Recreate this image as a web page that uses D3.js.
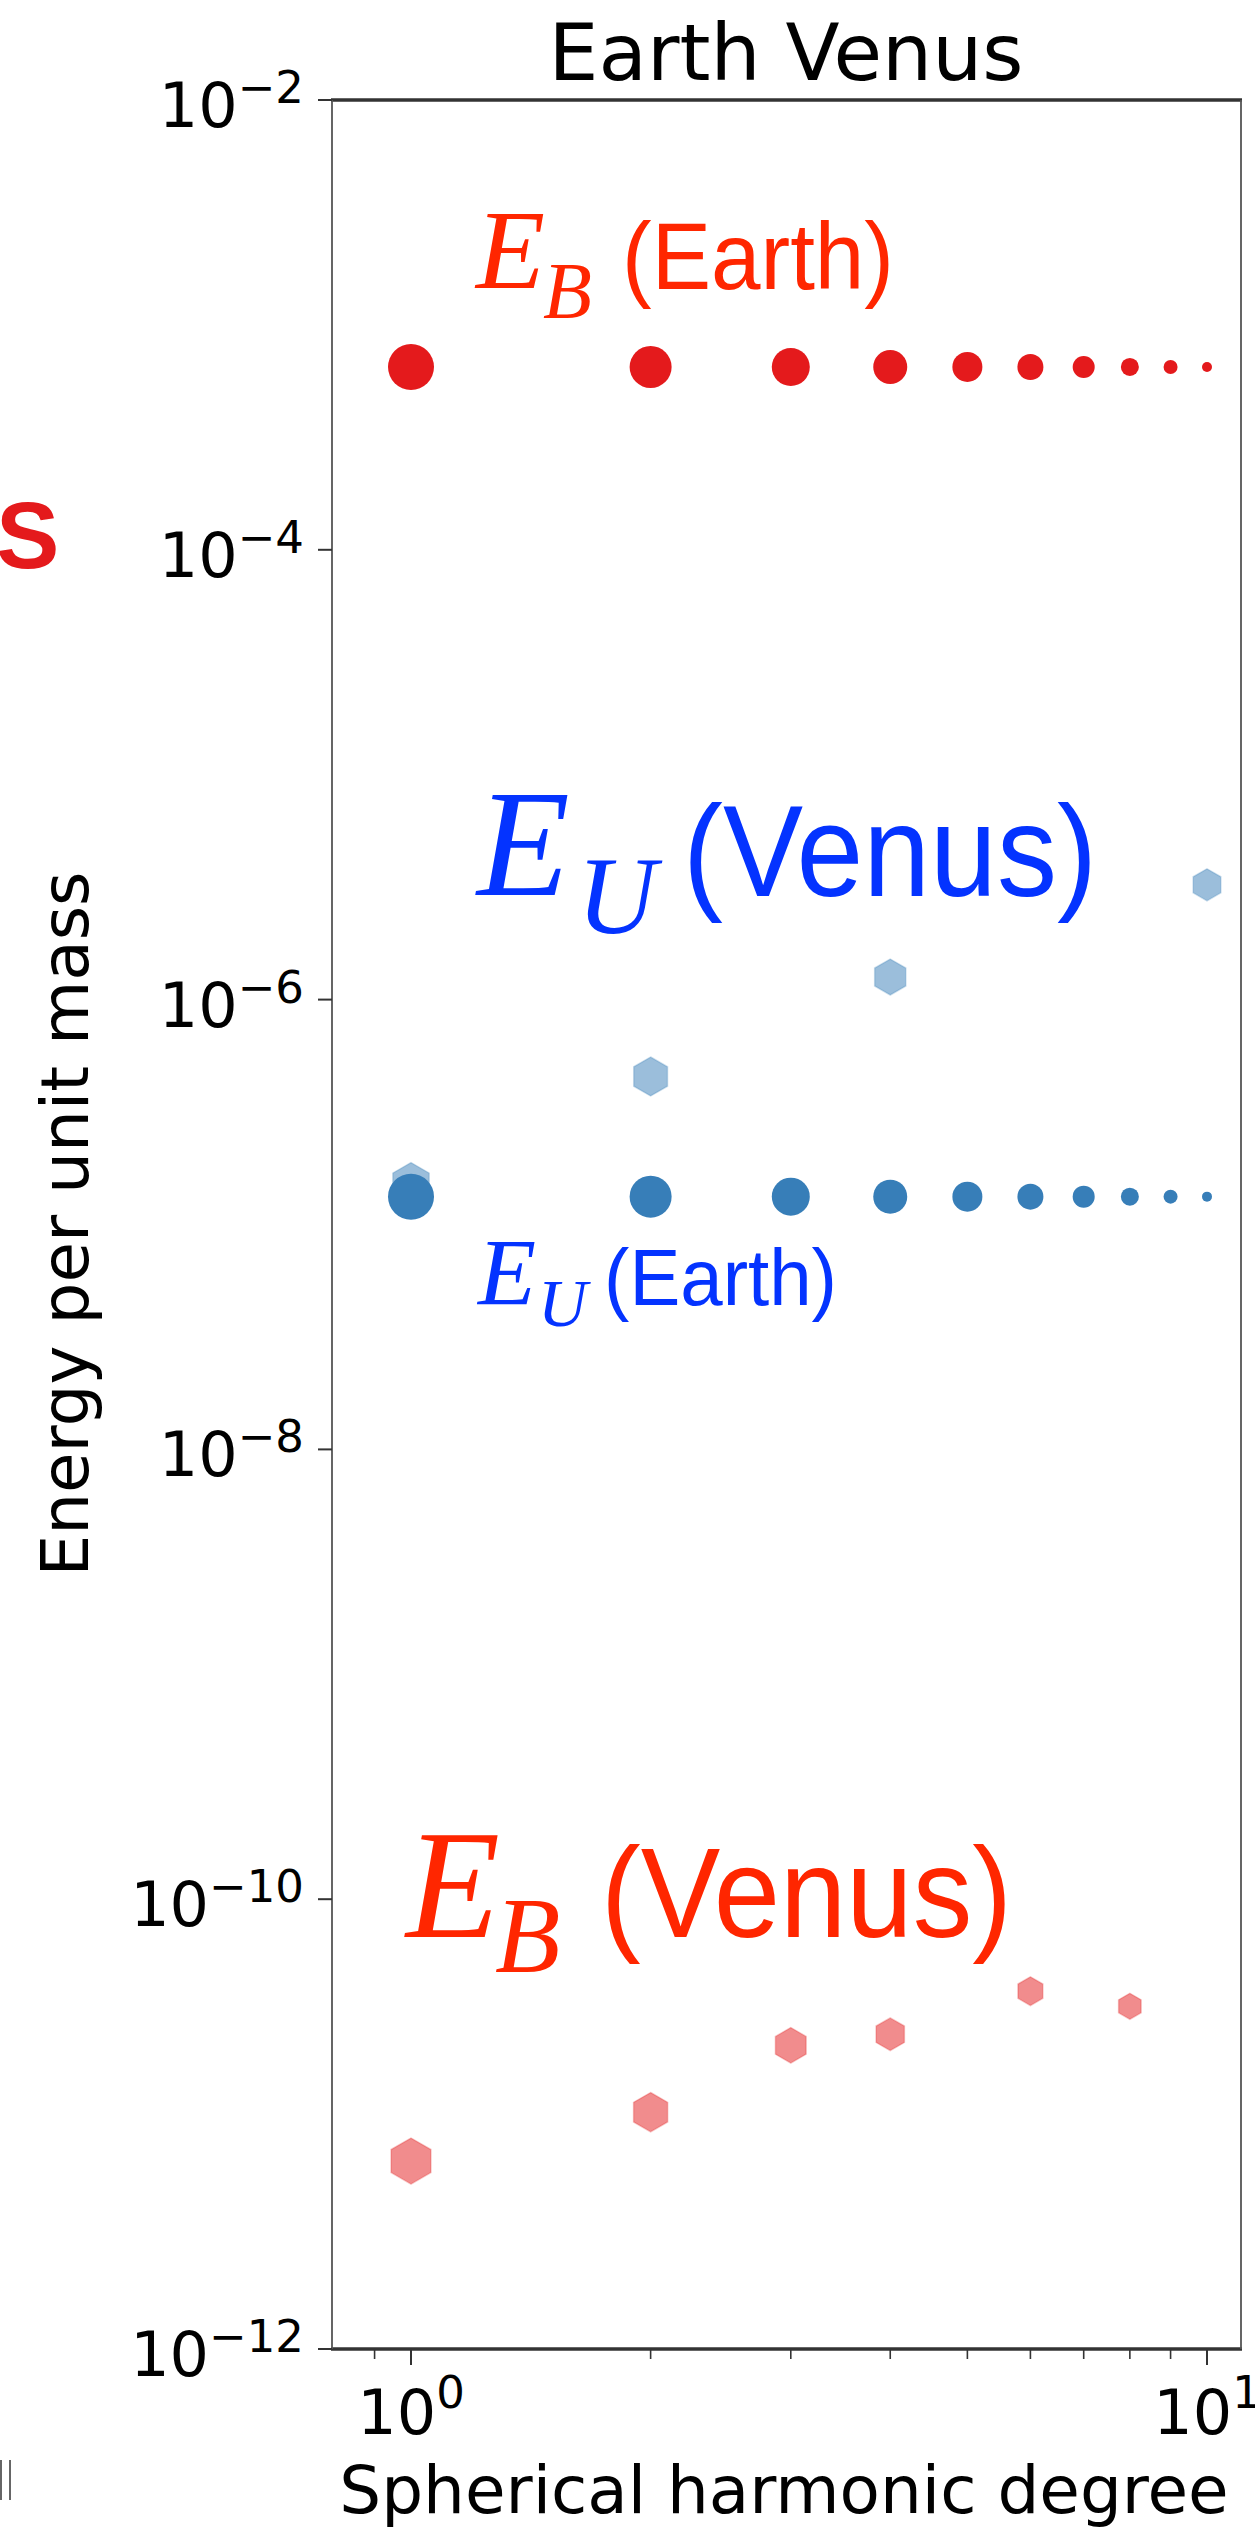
<!DOCTYPE html>
<html>
<head>
<meta charset="utf-8">
<script src="https://cdn.jsdelivr.net/npm/d3@7"></script>
<style>
  body { margin: 0; background: #fff; }
  svg { display: block; }
</style>
</head>
<body>
<div id="chart"></div>
<script>
// Values (energy per unit mass vs spherical harmonic degree)
const degrees      = [1, 2, 3, 4, 5, 6, 7, 8, 9, 10];
const ebEarth      = [6.5e-4, 6.5e-4, 6.5e-4, 6.5e-4, 6.5e-4, 6.5e-4, 6.5e-4, 6.5e-4, 6.5e-4, 6.5e-4];
const euEarth      = [1.33e-7, 1.33e-7, 1.33e-7, 1.33e-7, 1.33e-7, 1.33e-7, 1.33e-7, 1.33e-7, 1.33e-7, 1.33e-7];
const euVenusDeg   = [1, 2, 4, 10];
const euVenus      = [1.52e-7, 4.55e-7, 1.26e-6, 3.24e-6];
const ebVenusDeg   = [1, 2, 3, 4, 6, 8];
const ebVenus      = [6.85e-12, 1.13e-11, 2.24e-11, 2.51e-11, 3.9e-11, 3.34e-11];
const yTickExps    = [-2, -4, -6, -8, -10, -12];
const xTickExps    = [0, 1];
const xMinorTicks  = [0.9, 2, 3, 4, 5, 6, 7, 8, 9];

const width  = 1255;
const height = 2529;
const plot = { left: 332, right: 1241, top: 100, bottom: 2349 };

const svg = d3.select("#chart")
  .append("svg")
  .attr("width", width)
  .attr("height", height)
  .attr("viewBox", `0 0 ${width} ${height}`);

// log scales: 10^0 sits at x=411, 10^1 at x=1207
const x = d3.scaleLog()
  .domain([Math.pow(10, -79 / 796), Math.pow(10, (plot.right - 411) / 796)])
  .range([plot.left, plot.right]);

const y = d3.scaleLog()
  .domain([1e-12, 1e-2])
  .range([plot.bottom, plot.top]);

// marker size shrinks with degree
const circleR  = d3.scaleLinear().domain([1, 10]).range([23, 5]);
const hexRB    = d3.scaleLog().domain([1, 8]).range([23, 13]);
const hexRU    = d3.scaleLog().domain([1, 10]).range([21, 16]);

// matplotlib 'h' marker: hexagon with a point on top
const hexagon = {
  draw(ctx, size) {
    const r = Math.sqrt(size / (1.5 * Math.sqrt(3)));
    for (let i = 0; i < 6; i++) {
      const a = -Math.PI / 2 + i * Math.PI / 3;
      const px = r * Math.cos(a), py = r * Math.sin(a);
      if (i === 0) ctx.moveTo(px, py); else ctx.lineTo(px, py);
    }
    ctx.closePath();
  }
};
const hexArea = r => 1.5 * Math.sqrt(3) * r * r;

const red  = "#e41a1c";
const blue = "#377eb8";

// Venus hexagons (behind)
const hexLayer = svg.append("g");
hexLayer.selectAll("path.ebv")
  .data(ebVenusDeg.map((d, i) => ({ deg: d, v: ebVenus[i] })))
  .join("path")
    .attr("class", "ebv")
    .attr("transform", d => `translate(${x(d.deg)},${y(d.v)})`)
    .attr("d", d => d3.symbol().type(hexagon).size(hexArea(hexRB(d.deg)))())
    .attr("fill", red)
    .attr("fill-opacity", 0.5)
    .attr("stroke", red)
    .attr("stroke-opacity", 0.25)
    .attr("stroke-width", 1.5);

hexLayer.selectAll("path.euv")
  .data(euVenusDeg.map((d, i) => ({ deg: d, v: euVenus[i] })))
  .join("path")
    .attr("class", "euv")
    .attr("transform", d => `translate(${x(d.deg)},${y(d.v)})`)
    .attr("d", d => d3.symbol().type(hexagon).size(hexArea(hexRU(d.deg)))())
    .attr("fill", blue)
    .attr("fill-opacity", 0.5)
    .attr("stroke", blue)
    .attr("stroke-opacity", 0.25)
    .attr("stroke-width", 1.5);

// Earth circles
const dotLayer = svg.append("g");
[[ebEarth, red], [euEarth, blue]].forEach(([vals, col]) => {
  dotLayer.append("g").selectAll("circle")
    .data(degrees.map((d, i) => ({ deg: d, v: vals[i] })))
    .join("circle")
      .attr("cx", d => x(d.deg))
      .attr("cy", d => y(d.v))
      .attr("r", d => circleR(d.deg))
      .attr("fill", col);
});

// frame
const frame = svg.append("g").attr("stroke", "#333");
frame.append("line").attr("x1", plot.left - 1).attr("x2", plot.right + 1)
  .attr("y1", plot.top).attr("y2", plot.top).attr("stroke-width", 3.5);
frame.append("line").attr("x1", plot.left - 1).attr("x2", plot.right + 1)
  .attr("y1", plot.bottom).attr("y2", plot.bottom).attr("stroke-width", 3.5);
frame.append("line").attr("x1", plot.left).attr("x2", plot.left)
  .attr("y1", plot.top).attr("y2", plot.bottom).attr("stroke-width", 1.8).attr("stroke", "#555");
frame.append("line").attr("x1", plot.right).attr("x2", plot.right)
  .attr("y1", plot.top).attr("y2", plot.bottom).attr("stroke-width", 1.8).attr("stroke", "#555");

const tickFont = "DejaVu Sans, sans-serif";

// y ticks and labels
const yAxis = svg.append("g");
yTickExps.forEach(e => {
  const yy = y(Math.pow(10, e));
  yAxis.append("line")
    .attr("x1", plot.left - 14).attr("x2", plot.left)
    .attr("y1", yy).attr("y2", yy)
    .attr("stroke", "#333").attr("stroke-width", 2);
  const t = yAxis.append("text")
    .attr("x", 304).attr("y", yy + 27)
    .attr("text-anchor", "end")
    .attr("font-family", tickFont)
    .attr("font-size", 62)
    .attr("fill", "#000");
  t.append("tspan").text("10");
  t.append("tspan").attr("font-size", 45).attr("dy", -24).text("\u2212" + Math.abs(e));
});

// x ticks and labels
const xAxis = svg.append("g");
xMinorTicks.forEach(v => {
  xAxis.append("line")
    .attr("x1", x(v)).attr("x2", x(v))
    .attr("y1", plot.bottom).attr("y2", plot.bottom + 10)
    .attr("stroke", "#333").attr("stroke-width", 1.6);
});
xTickExps.forEach(e => {
  const xx = x(Math.pow(10, e));
  xAxis.append("line")
    .attr("x1", xx).attr("x2", xx)
    .attr("y1", plot.bottom).attr("y2", plot.bottom + 16)
    .attr("stroke", "#333").attr("stroke-width", 2);
  const t = xAxis.append("text")
    .attr("x", xx).attr("y", 2434)
    .attr("text-anchor", "middle")
    .attr("font-family", tickFont)
    .attr("font-size", 62)
    .attr("fill", "#000");
  t.append("tspan").text("10");
  t.append("tspan").attr("font-size", 45).attr("dy", -26).text(String(e));
});

// axis titles
svg.append("text")
  .attr("x", 786).attr("y", 80)
  .attr("text-anchor", "middle")
  .attr("font-family", tickFont)
  .attr("font-size", 79)
  .text("Earth Venus");

svg.append("text")
  .attr("x", 784).attr("y", 2513)
  .attr("text-anchor", "middle")
  .attr("font-family", tickFont)
  .attr("font-size", 66)
  .text("Spherical harmonic degree");

svg.append("text")
  .attr("transform", "translate(88,1224) rotate(-90)")
  .attr("text-anchor", "middle")
  .attr("font-family", tickFont)
  .attr("font-size", 66)
  .text("Energy per unit mass");

// overlaid annotations: italic E with subscript, then planet name
const annRed  = "#ff2600";
const annBlue = "#0433ff";
const notes = [
  { col: annRed,  sym: "B", name: "(Earth)", eX: 476, eY: 288, eS: 113, sX: 543, sY: 318, sS: 80,  nX: 622, nY: 289, nS: 95,  nW: 272 },
  { col: annBlue, sym: "U", name: "(Venus)", eX: 477, eY: 895, eS: 152, sX: 577, sY: 933, sS: 110, nX: 683, nY: 896, nS: 130, nW: 414 },
  { col: annBlue, sym: "U", name: "(Earth)", eX: 478, eY: 1305, eS: 95, sX: 538, sY: 1326, sS: 68, nX: 604, nY: 1305, nS: 80, nW: 233 },
  { col: annRed,  sym: "B", name: "(Venus)", eX: 406, eY: 1937, eS: 154, sX: 495, sY: 1972, sS: 107, nX: 601, nY: 1937, nS: 128, nW: 411 }
];
const noteLayer = svg.append("g");
notes.forEach(n => {
  noteLayer.append("text")
    .attr("x", n.eX).attr("y", n.eY)
    .attr("font-family", "Liberation Serif, serif")
    .attr("font-style", "italic")
    .attr("font-size", n.eS)
    .attr("fill", n.col)
    .text("E");
  noteLayer.append("text")
    .attr("x", n.sX).attr("y", n.sY)
    .attr("font-family", "Liberation Serif, serif")
    .attr("font-style", "italic")
    .attr("font-size", n.sS)
    .attr("fill", n.col)
    .text(n.sym);
  noteLayer.append("text")
    .attr("x", n.nX).attr("y", n.nY)
    .attr("font-family", "Liberation Sans, Arial, sans-serif")
    .attr("font-size", n.nS)
    .attr("textLength", n.nW)
    .attr("lengthAdjust", "spacingAndGlyphs")
    .attr("fill", n.col)
    .text(n.name);
});

// fragments of the neighbouring panel cut by the crop
svg.append("text")
  .attr("x", -4).attr("y", 568)
  .attr("font-family", "Liberation Sans, Arial, sans-serif")
  .attr("font-weight", "bold")
  .attr("font-size", 95)
  .attr("fill", red)
  .text("S");
svg.append("g").attr("stroke", "#333").attr("stroke-width", 1.5)
  .selectAll("line").data([1, 10]).join("line")
    .attr("x1", d => d).attr("x2", d => d)
    .attr("y1", 2460).attr("y2", 2500);
</script>
</body>
</html>
